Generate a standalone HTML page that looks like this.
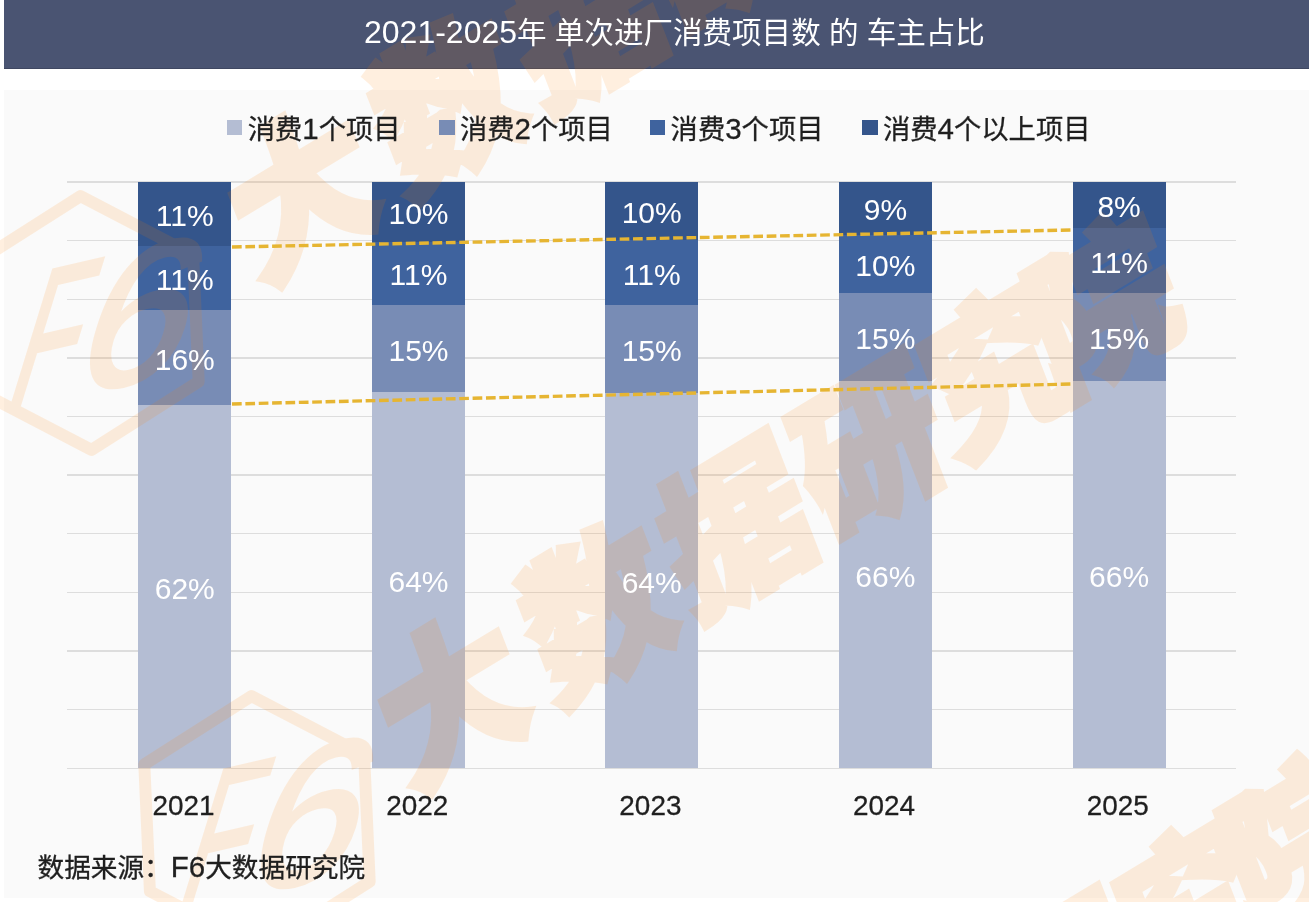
<!DOCTYPE html>
<html lang="zh-CN">
<head>
<meta charset="utf-8">
<title>2021-2025年 单次进厂消费项目数 的 车主占比</title>
<style>
html,body{margin:0;padding:0;}
body{width:1309px;height:902px;overflow:hidden;background:#fff;position:relative;
 font-family:"Liberation Sans","Noto Sans CJK SC",sans-serif;color:#1f1f1f;}
.abs{position:absolute;}
#hdr{left:4px;top:0;width:1305px;height:67.5px;background:#4a5472;border-bottom:1px solid #3f4761;}
#title{left:364px;top:0.5px;height:68px;line-height:63px;color:#fff;font-size:29.55px;white-space:nowrap;}
#title b{font-weight:normal;font-size:32px}
.lg b,#src b{font-weight:normal;font-size:29.5px;line-height:1px}
#panel{left:3.5px;top:90px;width:1306px;height:808px;background:#fafafa;}
.grid{left:67px;width:1169px;height:1.4px;background:#dddddd;}
.lbl{color:#fff;font-size:30px;text-align:center;line-height:30px;height:30px;white-space:nowrap;}
.yr{font-size:27.9px;text-align:center;line-height:30px;height:30px;width:120px;}
.lg,#src,.yr{-webkit-text-stroke:0.3px #1f1f1f;}
.lg{font-size:27.3px;line-height:32px;height:32px;white-space:nowrap;}
.sq{width:15.5px;height:15.5px;}
#src{left:37.5px;top:850px;font-size:26.67px;line-height:36px;white-space:nowrap;}
</style>
</head>
<body>
<div class="abs" id="hdr"></div>
<div class="abs" id="panel"></div>

<div class="abs grid" style="top:181.30px"></div>
<div class="abs grid" style="top:239.93px"></div>
<div class="abs grid" style="top:298.56px"></div>
<div class="abs grid" style="top:357.19px"></div>
<div class="abs grid" style="top:415.82px"></div>
<div class="abs grid" style="top:474.45px"></div>
<div class="abs grid" style="top:533.08px"></div>
<div class="abs grid" style="top:591.71px"></div>
<div class="abs grid" style="top:650.34px"></div>
<div class="abs grid" style="top:708.97px"></div>
<div class="abs grid" style="top:767.60px"></div>
<div class="abs seg" style="left:138.1px;top:182.0px;width:93.3px;height:63.7px;background:#34558b"></div>
<div class="abs seg" style="left:138.1px;top:245.7px;width:93.3px;height:64.6px;background:#3f639e"></div>
<div class="abs seg" style="left:138.1px;top:310.3px;width:93.3px;height:94.6px;background:#788cb5"></div>
<div class="abs seg" style="left:138.1px;top:404.9px;width:93.3px;height:363.4px;background:#b4bdd3"></div>
<div class="abs seg" style="left:372.0px;top:182.0px;width:93.0px;height:59.5px;background:#34558b"></div>
<div class="abs seg" style="left:372.0px;top:241.5px;width:93.0px;height:63.3px;background:#3f639e"></div>
<div class="abs seg" style="left:372.0px;top:304.8px;width:93.0px;height:87.6px;background:#788cb5"></div>
<div class="abs seg" style="left:372.0px;top:392.4px;width:93.0px;height:375.9px;background:#b4bdd3"></div>
<div class="abs seg" style="left:605.3px;top:182.0px;width:92.8px;height:58.0px;background:#34558b"></div>
<div class="abs seg" style="left:605.3px;top:240.0px;width:92.8px;height:65.1px;background:#3f639e"></div>
<div class="abs seg" style="left:605.3px;top:305.1px;width:92.8px;height:87.9px;background:#788cb5"></div>
<div class="abs seg" style="left:605.3px;top:393.0px;width:92.8px;height:375.3px;background:#b4bdd3"></div>
<div class="abs seg" style="left:838.8px;top:182.0px;width:93.2px;height:52.5px;background:#34558b"></div>
<div class="abs seg" style="left:838.8px;top:234.5px;width:93.2px;height:58.3px;background:#3f639e"></div>
<div class="abs seg" style="left:838.8px;top:292.8px;width:93.2px;height:87.8px;background:#788cb5"></div>
<div class="abs seg" style="left:838.8px;top:380.6px;width:93.2px;height:387.7px;background:#b4bdd3"></div>
<div class="abs seg" style="left:1072.6px;top:182.0px;width:93.0px;height:46.4px;background:#34558b"></div>
<div class="abs seg" style="left:1072.6px;top:228.4px;width:93.0px;height:64.4px;background:#3f639e"></div>
<div class="abs seg" style="left:1072.6px;top:292.8px;width:93.0px;height:87.8px;background:#788cb5"></div>
<div class="abs seg" style="left:1072.6px;top:380.6px;width:93.0px;height:387.7px;background:#b4bdd3"></div>
<svg class="abs" style="left:0;top:0;opacity:0.12" width="1309" height="902" viewBox="0 0 1309 902">
<g transform="translate(107.0,316.0)">
<g transform="translate(-21.0,7.0)">
<polygon points="-5.5,-126.9 107.1,-68.2 112.7,58.6 5.5,126.9 -107.1,68.2 -112.7,-58.6" fill="none" stroke="#ff8000" stroke-width="12" stroke-linejoin="round"/>
<g transform="translate(24,-3) matrix(0.974,-0.225,-0.293,0.956,0,0)" font-size="214" fill="#ff8000" stroke="#ff8000" stroke-width="4" font-family="Liberation Sans, sans-serif"><text x="-178" y="76" transform="scale(0.5,1)">F</text><text x="-22" y="76" transform="scale(0.95,1)">6</text></g>
</g>
<g transform="rotate(-31.15)"><text x="157.9" y="52.7" dx="0 18 10 4 -2 -30" font-size="156.0" font-weight="900" fill="#ff8000" stroke="#ff8000" stroke-width="6" stroke-linejoin="miter" font-family="Noto Sans CJK SC, sans-serif" transform="skewX(-10.0) scale(0.975,1)">大数据研究院</text></g>
</g>
<g transform="translate(257.0,823.0)">
<g transform="translate(0.0,0.0)">
<polygon points="-5.5,-126.9 107.1,-68.2 112.7,58.6 5.5,126.9 -107.1,68.2 -112.7,-58.6" fill="none" stroke="#ff8000" stroke-width="12" stroke-linejoin="round"/>
<g transform="translate(24,-3) matrix(0.974,-0.225,-0.293,0.956,0,0)" font-size="214" fill="#ff8000" stroke="#ff8000" stroke-width="4" font-family="Liberation Sans, sans-serif"><text x="-178" y="76" transform="scale(0.5,1)">F</text><text x="-22" y="76" transform="scale(0.95,1)">6</text></g>
</g>
<g transform="rotate(-31.15)"><text x="157.9" y="52.7" dx="0 18 10 4 -2 -30" font-size="156.0" font-weight="900" fill="#ff8000" stroke="#ff8000" stroke-width="6" stroke-linejoin="miter" font-family="Noto Sans CJK SC, sans-serif" transform="skewX(-10.0) scale(0.975,1)">大数据研究院</text></g>
</g>
<g transform="translate(452.0,1360.0)">
<g transform="translate(0.0,0.0)">
<polygon points="-5.5,-126.9 107.1,-68.2 112.7,58.6 5.5,126.9 -107.1,68.2 -112.7,-58.6" fill="none" stroke="#ff8000" stroke-width="12" stroke-linejoin="round"/>
<g transform="translate(24,-3) matrix(0.974,-0.225,-0.293,0.956,0,0)" font-size="214" fill="#ff8000" stroke="#ff8000" stroke-width="4" font-family="Liberation Sans, sans-serif"><text x="-178" y="76" transform="scale(0.5,1)">F</text><text x="-22" y="76" transform="scale(0.95,1)">6</text></g>
</g>
<g transform="rotate(-31.15)"><text x="157.9" y="52.7" dx="0 18 10 4 -2 -30" font-size="156.0" font-weight="900" fill="#ff8000" stroke="#ff8000" stroke-width="6" stroke-linejoin="miter" font-family="Noto Sans CJK SC, sans-serif" transform="skewX(-10.0) scale(0.975,1)">大数据研究院</text></g>
</g>
</svg>
<svg class="abs" style="left:0;top:0" width="1309" height="902" viewBox="0 0 1309 902">
<line x1="232" y1="247" x2="1072" y2="230" stroke="#e6b532" stroke-width="3.4" stroke-dasharray="9.7 3.67"/>
<line x1="232" y1="404" x2="1072" y2="384" stroke="#e6b532" stroke-width="3.4" stroke-dasharray="9.7 3.67"/>
</svg>
<div class="abs lbl" style="left:138.1px;top:200.9px;width:93.3px">11%</div>
<div class="abs lbl" style="left:138.1px;top:265.1px;width:93.3px">11%</div>
<div class="abs lbl" style="left:138.1px;top:344.7px;width:93.3px">16%</div>
<div class="abs lbl" style="left:138.1px;top:573.7px;width:93.3px">62%</div>
<div class="abs yr" style="left:123.5px;top:790.7px">2021</div>
<div class="abs lbl" style="left:372.0px;top:198.8px;width:93.0px">10%</div>
<div class="abs lbl" style="left:372.0px;top:260.2px;width:93.0px">11%</div>
<div class="abs lbl" style="left:372.0px;top:335.7px;width:93.0px">15%</div>
<div class="abs lbl" style="left:372.0px;top:567.4px;width:93.0px">64%</div>
<div class="abs yr" style="left:357.2px;top:790.7px">2022</div>
<div class="abs lbl" style="left:605.3px;top:198.1px;width:92.8px">10%</div>
<div class="abs lbl" style="left:605.3px;top:259.7px;width:92.8px">11%</div>
<div class="abs lbl" style="left:605.3px;top:336.2px;width:92.8px">15%</div>
<div class="abs lbl" style="left:605.3px;top:567.8px;width:92.8px">64%</div>
<div class="abs yr" style="left:590.4px;top:790.7px">2023</div>
<div class="abs lbl" style="left:838.8px;top:195.3px;width:93.2px">9%</div>
<div class="abs lbl" style="left:838.8px;top:250.8px;width:93.2px">10%</div>
<div class="abs lbl" style="left:838.8px;top:323.8px;width:93.2px">15%</div>
<div class="abs lbl" style="left:838.8px;top:561.6px;width:93.2px">66%</div>
<div class="abs yr" style="left:824.1px;top:790.7px">2024</div>
<div class="abs lbl" style="left:1072.6px;top:192.3px;width:93.0px">8%</div>
<div class="abs lbl" style="left:1072.6px;top:247.7px;width:93.0px">11%</div>
<div class="abs lbl" style="left:1072.6px;top:323.8px;width:93.0px">15%</div>
<div class="abs lbl" style="left:1072.6px;top:561.6px;width:93.0px">66%</div>
<div class="abs yr" style="left:1057.8px;top:790.7px">2025</div>
<div class="abs sq" style="left:226.9px;top:119.8px;background:#b4bdd3"></div>
<div class="abs lg" style="left:247.7px;top:113.5px">消费<b>1</b>个项目</div>
<div class="abs sq" style="left:439.2px;top:119.8px;background:#788cb5"></div>
<div class="abs lg" style="left:460.0px;top:113.5px">消费<b>2</b>个项目</div>
<div class="abs sq" style="left:649.8px;top:119.8px;background:#3f639e"></div>
<div class="abs lg" style="left:670.6px;top:113.5px">消费<b>3</b>个项目</div>
<div class="abs sq" style="left:862.2px;top:119.8px;background:#34558b"></div>
<div class="abs lg" style="left:883.0px;top:113.5px">消费<b>4</b>个以上项目</div>
<div class="abs" id="title"><b>2021-2025</b>年 单次进厂消费项目数 的 车主占比</div>
<div class="abs" id="src">数据来源：<b>F6</b>大数据研究院</div>
</body></html>
